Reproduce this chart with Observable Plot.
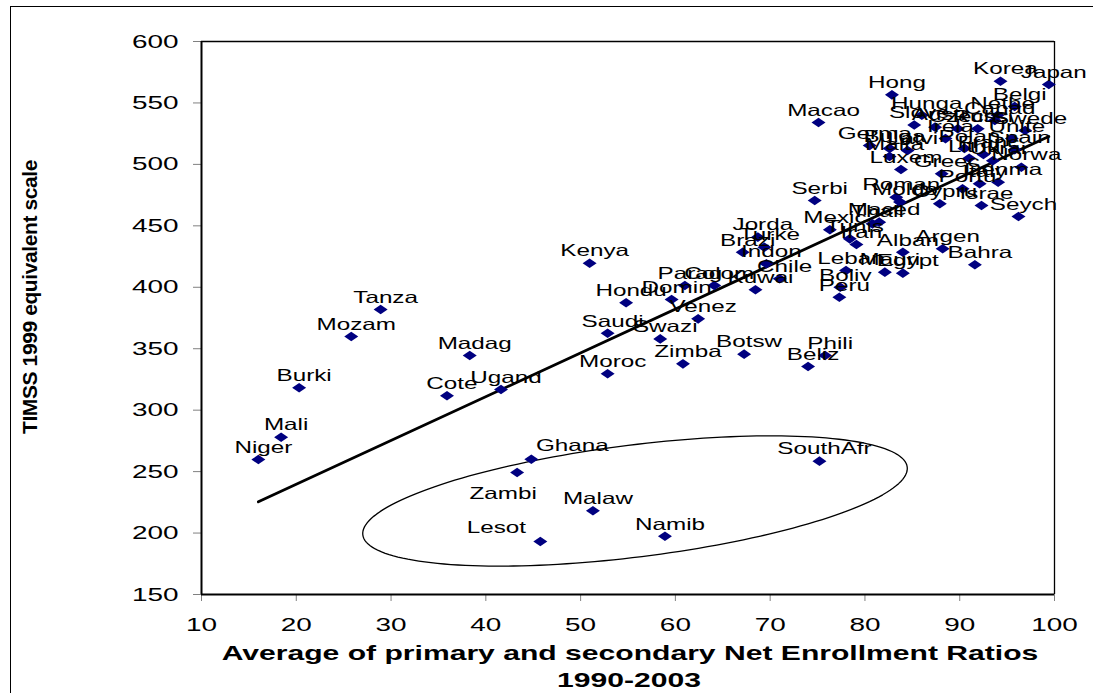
<!DOCTYPE html>
<html><head><meta charset="utf-8">
<script src="https://cdn.jsdelivr.net/npm/d3@7"></script>
<script src="https://cdn.jsdelivr.net/npm/@observablehq/plot@0.6"></script>
<style>
html,body{margin:0;padding:0;background:#fff;}
#chart{position:relative;width:1093px;height:693px;overflow:hidden;}
</style></head><body><div id="chart"></div>
<script>
// ---- data ----
const countries = [
 "Niger","Mali","Burki","Mozam","Tanza","Madag","Cote","Ugand","Ghana","Zambi","Lesot","Malaw","Namib","SouthAfr",
 "Kenya","Hondu","Saudi","Moroc","Domin","Parag","Colom","Kuwai","Chile","Indon","Brazi","Turke","Jorda","Venez",
 "Swazi","Zimba","Botsw","Beliz","Phili","Serbi","Mexic","Tunis","Iran","Maced","Thail","Alban","Mauri","Egypt",
 "Leban","Boliv","Peru","Argen","Bahra","Seych","Roman","Moldo","Cypru","Israe","Portu",
 "Korea","Japan","Hong","Macao","Belgi","Hunga","Nethe","Slove","Austr","Czech","Russi","Canad","Swede",
 "Irela","Unite","Germa","Bulga","Latvi","Malta","Polan","Spain","Franc","Lithu","Ukrai","Norwa","Luxem","Greec","Italy","Denma"
];
const enrollment = [
 16.0,18.4,20.3,25.8,28.9,38.3,35.9,41.6,44.8,43.3,45.75,51.3,58.9,75.2,
 50.95,54.8,52.85,52.85,59.6,61.0,64.1,68.45,71.0,69.6,67.1,69.4,68.7,62.4,
 58.4,60.8,67.25,74.0,75.8,74.7,76.3,78.4,79.1,81.5,80.8,84.0,82.1,84.0,
 78.0,77.4,77.3,88.2,91.6,96.2,83.3,83.7,87.9,92.3,90.3,
 94.3,99.4,82.85,75.1,95.8,86.0,94.0,85.2,87.4,89.8,91.9,93.7,96.9,
 88.5,95.5,80.5,82.6,84.5,82.6,90.5,95.8,92.5,91.0,93.5,96.5,83.8,88.1,92.1,94.05
];
const timss = [
 259.8,278.0,318.2,359.9,381.9,344.5,311.7,316.8,260.1,249.3,193.1,218.1,197.4,258.5,
 419.6,387.4,362.6,329.6,390.0,401.4,401.4,398.0,406.9,419.1,428.5,432.6,440.8,374.3,
 358.0,337.7,345.6,335.5,344.5,470.6,446.8,439.4,434.8,453.0,451.6,428.5,412.3,411.5,
 413.7,400.0,391.9,431.3,418.3,457.6,473.3,469.3,468.0,466.5,480.1,
 567.7,565.0,556.6,534.1,547.1,540.0,540.0,532.0,530.3,529.0,529.0,535.7,527.6,
 521.0,521.0,515.4,513.0,511.3,506.4,513.0,512.0,508.0,505.0,503.0,497.7,495.8,492.3,484.2,485.5
];
const xTicks = [10,20,30,40,50,60,70,80,90,100];
const yTicks = [150,200,250,300,350,400,450,500,550,600];
// fitted trend line (end points)
const trendX = [16.0, 99.4];
const trendY = [225.4, 522.7];
// hand-drawn ellipse around the southern-African outliers (centre and half-axis vectors, data units)
const ellipseCentre = [55.74, 226.1];
const ellipseAxisU = [28.72, 27.64];
const ellipseAxisV = [-0.733, 45.22];

// ---- label nudges (pixels) ----
const labelNudge = {Ghana:[41,-13], Zambi:[-14,21], Lesot:[-44,-14]};

const points = countries.map((c,i)=>({c, x:enrollment[i], y:timss[i]}));
const trend = trendX.map((x,i)=>({x, y:trendY[i]}));
const ellipse = d3.range(0, 181).map(k=>{
  const t = k/180*2*Math.PI;
  return {x: ellipseCentre[0] + ellipseAxisU[0]*Math.cos(t) + ellipseAxisV[0]*Math.sin(t),
          y: ellipseCentre[1] + ellipseAxisU[1]*Math.cos(t) + ellipseAxisV[1]*Math.sin(t)};
});
const diamond = {draw(ctx){ ctx.moveTo(0,-4.8); ctx.lineTo(7,0); ctx.lineTo(0,4.8); ctx.lineTo(-7,0); ctx.closePath(); }};

const normal = points.filter(d=>!(d.c in labelNudge));
const nudged = points.filter(d=>(d.c in labelNudge));
const FONT = "'Liberation Sans', Arial, sans-serif";

const plot = Plot.plot({
  width:1093, height:693,
  marginLeft:201, marginRight:39, marginTop:41, marginBottom:99,
  style:{fontFamily:FONT, background:"transparent", overflow:"visible"},
  x:{domain:[10,100]},
  y:{domain:[150,600]},
  marks:[
    Plot.axisX({ticks:xTicks, tickSize:7, tickPadding:16, fontSize:19, stroke:"#808080", fill:"black", label:null}),
    Plot.axisY({ticks:yTicks, tickSize:8, tickPadding:15, fontSize:19, stroke:"#808080", fill:"black", label:null}),
    Plot.ruleY([600], {stroke:"black", strokeWidth:1.3}),
    Plot.ruleX([100], {stroke:"black", strokeWidth:1.3}),
    Plot.ruleX([10], {stroke:"black", strokeWidth:2}),
    Plot.ruleY([150], {stroke:"black", strokeWidth:2}),
    Plot.line(ellipse, {x:"x", y:"y", stroke:"black", strokeWidth:1.3, curve:"linear-closed"}),
    Plot.line(trend, {x:"x", y:"y", stroke:"black", strokeWidth:2.8}),
    Plot.dot(points, {x:"x", y:"y", symbol:diamond, fill:"#000080", stroke:null}),
    Plot.text(normal, {x:"x", y:"y", text:"c", dx:5, dy:-12, fontSize:16.5, fill:"black"}),
    ...nudged.map(d=>Plot.text([d], {x:"x", y:"y", text:"c", dx:labelNudge[d.c][0], dy:labelNudge[d.c][1], fontSize:16.5, fill:"black"}))
  ]
});
document.getElementById("chart").appendChild(plot);

const svg = d3.select(plot);
// horizontally stretched lettering, as in the reference
const stretch = 1.47;
plot.querySelectorAll("text").forEach(t=>{
  let tr = t.getAttribute("transform") || "";
  const x = t.getAttribute("x");
  if (x != null) { tr += ` translate(${x},0)`; t.removeAttribute("x"); }
  t.setAttribute("transform", tr + ` scale(${stretch},1)`);
});

// outer border
svg.append("rect").attr("x",10.5).attr("y",6.5).attr("width",1200).attr("height",800)
  .attr("fill","none").attr("stroke","black").attr("stroke-width",1);

// axis titles
const xt1 = svg.append("text").attr("text-anchor","middle").attr("font-weight","bold").attr("font-size",20)
  .attr("font-family",FONT).text("Average of primary and secondary Net Enrollment Ratios");
const xt2 = svg.append("text").attr("text-anchor","middle").attr("font-weight","bold").attr("font-size",20)
  .attr("font-family",FONT).text("1990-2003");
const w1 = xt1.node().getComputedTextLength();
const s1 = 817 / w1;
xt1.attr("transform",`translate(630,660) scale(${s1},1)`);
xt2.attr("transform",`translate(629,687) scale(${s1},1)`);
svg.append("text").attr("text-anchor","middle").attr("font-weight","bold").attr("font-size",21)
  .attr("font-family",FONT).attr("letter-spacing","-0.4")
  .attr("transform","translate(37,297) rotate(-90)").text("TIMSS 1999 equivalent scale");
</script></body></html>
